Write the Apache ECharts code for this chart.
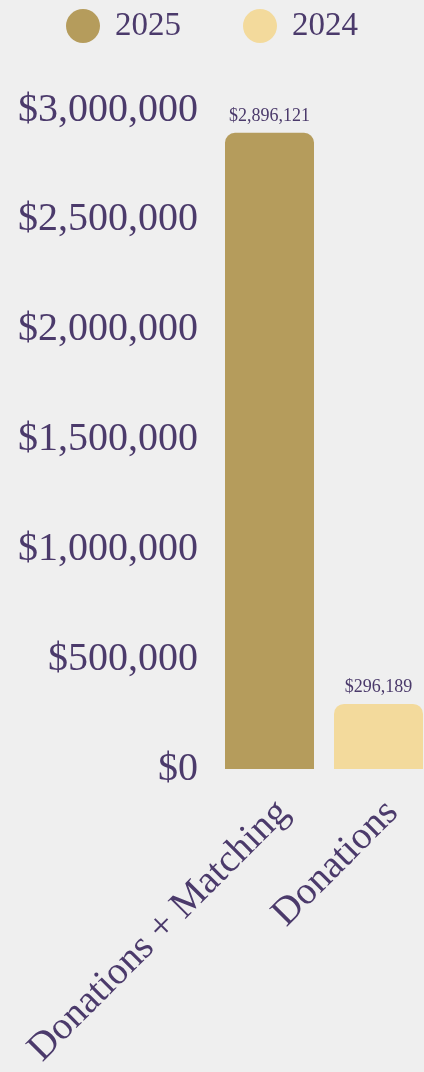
<!DOCTYPE html>
<html>
<head>
<meta charset="utf-8">
<script src="https://cdn.jsdelivr.net/npm/echarts@6/dist/echarts.min.js"></script>
<style>
  html, body { margin: 0; padding: 0; background: #efefef; }
  #main { width: 424px; height: 1072px; }
</style>
</head>
<body>
<div id="main"></div>
<script>
const categories = ['Donations + Matching', 'Donations'];
const seriesNames = ['2025', '2024'];
const values2025 = [2896121, null];
const values2024 = [null, 296189];
const yTicks = [0, 500000, 1000000, 1500000, 2000000, 2500000, 3000000];

window.addEventListener('load', function () {
    let chart = echarts.init(document.getElementById('main'));
    let font = 'Liberation Serif';
    let purple = '#4b3a6b';
    let money = v => '$' + Number(v).toLocaleString('en-US');

    let option = {
        backgroundColor: '#efefef',
        textStyle: { fontFamily: font, color: purple },
        legend: {
            top: 4,
            left: 'center',
            icon: 'circle',
            itemWidth: 34,
            itemHeight: 34,
            itemGap: 62,
            textStyle: { fontFamily: font, color: purple, fontSize: 33, padding: [0, 0, 0, 10] },
            data: seriesNames
        },
        grid: { left: 215, width: 218, top: 110, bottom: 303, containLabel: false, outerBoundsMode: 'none' },
        xAxis: {
            type: 'category',
            data: categories,
            axisLine: { show: false },
            axisTick: { show: false },
            axisLabel: { rotate: 45, fontFamily: font, color: purple, fontSize: 39, margin: 24, interval: 0, verticalAlign: 'top' }
        },
        yAxis: {
            type: 'value',
            min: yTicks[0],
            max: yTicks[yTicks.length - 1],
            interval: yTicks[1] - yTicks[0],
            splitLine: { show: false },
            axisLine: { show: false },
            axisTick: { show: false },
            axisLabel: { fontFamily: font, color: purple, fontSize: 40, margin: 17, formatter: money }
        },
        series: [
            {
                name: seriesNames[0],
                type: 'bar',
                data: values2025,
                barWidth: 89,
                barGap: '-100%',
                itemStyle: { color: '#b59c5c', borderRadius: [10, 10, 0, 0] },
                label: { show: true, position: 'top', distance: 8, fontFamily: font, fontSize: 18, color: purple, formatter: p => money(p.value) }
            },
            {
                name: seriesNames[1],
                type: 'bar',
                data: values2024,
                barWidth: 89,
                itemStyle: { color: '#f3da9c', borderRadius: [10, 10, 0, 0] },
                label: { show: true, position: 'top', distance: 8, fontFamily: font, fontSize: 18, color: purple, formatter: p => money(p.value) }
            }
        ]
    };
    chart.setOption(option);
});
</script>
</body>
</html>
